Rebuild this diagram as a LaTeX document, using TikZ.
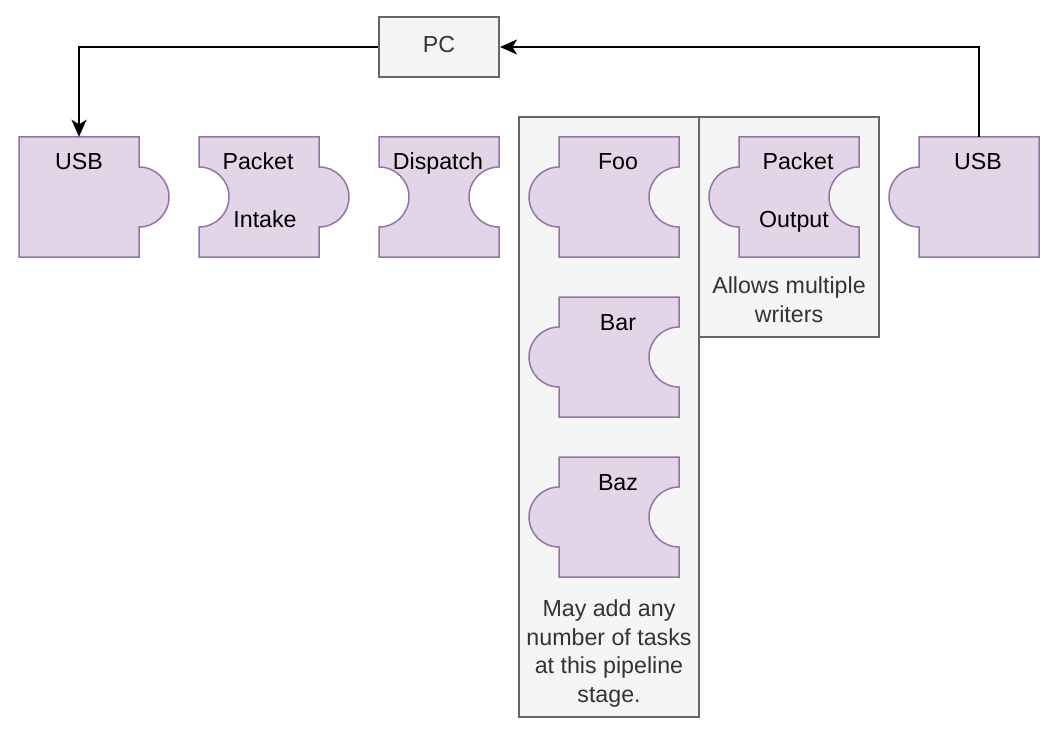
\documentclass[tikz,border=0pt]{standalone}
\usepackage{fontspec}
\setmainfont{Liberation Sans}
\usetikzlibrary{arrows.meta}
\definecolor{pfill}{HTML}{E1D5E7}
\definecolor{pdraw}{HTML}{9673A6}
\definecolor{gfill}{HTML}{F5F5F5}
\definecolor{gdraw}{HTML}{666666}
\definecolor{gtext}{HTML}{333333}
\tikzset{
  piece/.style={fill=pfill,draw=pdraw,line width=1.5pt,line join=miter},
  greybox/.style={fill=gfill,draw=gdraw,line width=2pt,inner sep=0pt},
  lbl/.style={font=\fontsize{23.2}{28}\selectfont,inner sep=0pt,text=black},
  note/.style={font=\fontsize{23.2}{28.4}\selectfont,inner sep=0pt,text=gtext,align=center},
  body/.style={minimum width=120pt,minimum height=120pt,inner sep=0pt},
  conn/.style={line width=2pt,-{Stealth[length=17pt,width=15pt,inset=4.5pt]}}
}
% x, y, left side code, right side code
\newcommand\puzzlepiece[4]{%
  \filldraw[piece] (#1,#2) -- ++(120,0) -- ++(0,30) #4 -- (#1+120,#2+120) -- (#1,#2+120) -- (#1,#2+90) #3 -- cycle;}
\begin{document}
\begin{tikzpicture}[x=1pt,y=-1pt]
\useasboundingbox (0,0) rectangle (1052,738);
\fill[white] (0,0) rectangle (1052,738);
% containers
\node[greybox,minimum width=180pt,minimum height=600pt] (stagebox) at (609,417) {};
\node[greybox,minimum width=180pt,minimum height=220pt] (outbox) at (789,227) {};
% PC
\node[greybox,minimum width=120pt,minimum height=60pt,font=\fontsize{23.2}{28}\selectfont,text=gtext,text height=17pt,text depth=5pt] (pc) at (439,47) {PC};
% pieces
\puzzlepiece{19}{137}{-- ++(0,-60)}{arc[start angle=-90,end angle=90,radius=30]}
\puzzlepiece{199}{137}{arc[start angle=90,end angle=-90,radius=30]}{arc[start angle=-90,end angle=90,radius=30]}
\puzzlepiece{379}{137}{arc[start angle=90,end angle=-90,radius=30]}{arc[start angle=-90,end angle=-270,radius=30]}
\puzzlepiece{559}{137}{arc[start angle=90,end angle=270,radius=30]}{arc[start angle=-90,end angle=-270,radius=30]}
\puzzlepiece{559}{297}{arc[start angle=90,end angle=270,radius=30]}{arc[start angle=-90,end angle=-270,radius=30]}
\puzzlepiece{559}{457}{arc[start angle=90,end angle=270,radius=30]}{arc[start angle=-90,end angle=-270,radius=30]}
\puzzlepiece{739}{137}{arc[start angle=90,end angle=270,radius=30]}{arc[start angle=-90,end angle=-270,radius=30]}
\puzzlepiece{919}{137}{arc[start angle=90,end angle=270,radius=30]}{-- ++(0,60)}
% bodies for connectors
\node[body] (usbL) at (79,197) {};
\node[body] (usbR) at (979,197) {};
% labels
\node[lbl,anchor=base] (tUsbL) at (79,170) {USB};
\node[lbl,anchor=base] (tPacket1) at (258,170) {Packet};
\node[lbl,anchor=base] (tIntake) at (265,228) {Intake};
\node[lbl,anchor=base] (tDispatch) at (438,170) {Dispatch};
\node[lbl,anchor=base] (tFoo) at (618,170) {Foo};
\node[lbl,anchor=base] (tBar) at (618,330) {Bar};
\node[lbl,anchor=base] (tBaz) at (618,490) {Baz};
\node[lbl,anchor=base] (tPacket2) at (798,170) {Packet};
\node[lbl,anchor=base] (tOutput) at (794,228) {Output};
\node[lbl,anchor=base] (tUsbR) at (978,170) {USB};
\node[note,anchor=base] (nWriters) at (789,322) {Allows multiple\\writers};
\node[note,anchor=base] (nStage) at (609,702) {May add any\\number of tasks\\at this pipeline\\stage.};
% connectors
\draw[conn] (pc.west) -| (usbL.north);
\draw[conn] (usbR.north) |- (pc.east);
\end{tikzpicture}
\end{document}
